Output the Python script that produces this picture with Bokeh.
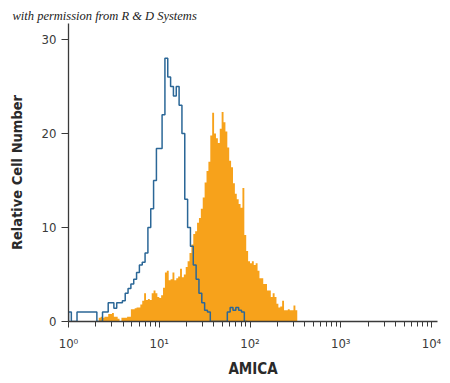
import numpy as np
from bokeh.plotting import figure
from bokeh.models import Range1d, FixedTicker
from bokeh.embed import file_html
from bokeh.resources import INLINE

# ---- data ----
X_TICKS = [1, 10, 100, 1000, 10000]
X_TICK_LABELS = ["10⁰", "10¹", "10²", "10³", "10⁴"]
Y_TICKS = [0, 10, 20, 30]
NOTE = "with permission from R & D Systems"

# isotype control (blue outline): 32 bins per decade, starting at 10^0
BLUE_BINS_PER_DECADE = 32
BLUE_FIRST_BIN = 0
BLUE_COUNTS = [1, 0, 0, 1, 1, 1, 1, 1, 1, 1,
               0, 0, 1, 1, 2, 2, 1.4, 2, 2, 2.2,
               3, 3.5, 4, 4.5, 5.2, 6, 6.3, 7.3, 10, 12,
               15, 18.4, 18.4, 22, 28, 26, 25, 24, 25, 23,
               20, 13, 10, 8, 6, 4.5, 3, 2, 1.2, 1,
               0, 0, 0, 0, 0, 0, 1, 1.5, 1.2, 1.5,
               1.2, 1, 0]

# AMICA antibody (orange filled): 48 bins per decade, starting at bin 16
ORANGE_BINS_PER_DECADE = 48
ORANGE_FIRST_BIN = 16
ORANGE_COUNTS = [0.4, 0.5, 0.4, 0.5, 0.5, 0.8, 0.8, 0.9, 0.5, 0.5,
                 0.3, 0, 0.4, 0.4, 0.4, 0.5, 0.5, 1.3, 1.3, 1.4,
                 1.5, 1.5, 1.8, 2.2, 3.0, 2.3, 2.4, 2.3, 3.0, 3.3,
                 3.0, 2.6, 2.5, 2.8, 3.6, 5.2, 5.4, 4.4, 4.5, 5.2,
                 4.4, 4.6, 4.8, 5.6, 4.7, 5.0, 5.8, 6.4, 7.3, 8.2,
                 9.3, 9.6, 10.5, 11.0, 12.0, 13.2, 14.8, 16.0, 17.0, 19.8,
                 22.2, 20.0, 19.5, 19.0, 20.5, 22.3, 21.2, 20.2, 18.5, 17.1,
                 16.4, 14.7, 13.6, 13.0, 12.5, 12.1, 14.2, 9.2, 7.5, 6.4,
                 6.2, 6.4, 6.0, 6.2, 5.4, 4.6, 4.6, 4.0, 4.0, 3.3,
                 3.3, 2.6, 3.0, 2.6, 1.9, 1.5, 1.6, 2.2, 1.2, 1.2,
                 1.3, 1.2, 1.2, 1.7, 1.2]


def step_path(first_bin, per_decade, counts):
    edges = 10 ** ((first_bin + np.arange(len(counts) + 1)) / per_decade)
    xs, ys = [edges[0]], [0]
    for i, c in enumerate(counts):
        xs += [edges[i], edges[i + 1]]
        ys += [c, c]
    xs.append(edges[-1])
    ys.append(0)
    return xs, ys


FONT = "DejaVu Sans Condensed, Liberation Sans, sans-serif"
AXIS_COLOR = "#3a3a3a"
FRAME_W, FRAME_H = 369, 298
PX_PER_DECADE, PX_PER_COUNT = 90.75, 9.4

p = figure(x_axis_type="log", frame_width=FRAME_W, frame_height=FRAME_H,
           x_range=Range1d(1, 10 ** (FRAME_W / PX_PER_DECADE)),
           y_range=Range1d(0, FRAME_H / PX_PER_COUNT),
           output_backend="svg", toolbar_location=None,
           min_border_left=68, min_border_right=5, min_border_top=23, min_border_bottom=56,
           background_fill_color="white", border_fill_color="white")

ox, oy = step_path(ORANGE_FIRST_BIN, ORANGE_BINS_PER_DECADE, ORANGE_COUNTS)
p.patch(ox, oy, fill_color="#F7A21B", line_color=None)

bx, by = step_path(BLUE_FIRST_BIN, BLUE_BINS_PER_DECADE, BLUE_COUNTS)
p.line(bx, by, line_color="#2B6797", line_width=1.5)

p.grid.visible = False
p.outline_line_color = None

p.title.text = NOTE
p.title.align = "left"
p.title.offset = -56
p.title.standoff = 1
p.title.text_font = "Liberation Serif"
p.title.text_font_style = "italic"
p.title.text_font_size = "12.5px"
p.title.text_color = "#222222"

xa = p.xaxis[0]
xa.ticker = FixedTicker(ticks=X_TICKS,
                        minor_ticks=[m * 10 ** d for d in range(4) for m in range(2, 10)])
xa.major_label_overrides = dict(zip(X_TICKS, X_TICK_LABELS))
xa.major_tick_in = 0
xa.major_tick_out = 6
xa.minor_tick_in = 0
xa.minor_tick_out = 5
xa.minor_tick_line_color = AXIS_COLOR
xa.major_label_standoff = 8
xa.axis_label = "AMICA"
xa.axis_label_standoff = 6

ya = p.yaxis[0]
ya.ticker = FixedTicker(ticks=Y_TICKS, minor_ticks=[])
ya.minor_tick_line_color = None
ya.major_tick_in = 0
ya.major_tick_out = 7
ya.major_label_standoff = 5
ya.axis_label = "Relative Cell Number"
ya.axis_label_standoff = 14

for ax in (xa, ya):
    ax.axis_line_color = AXIS_COLOR
    ax.axis_line_width = 1.3
    ax.major_tick_line_color = AXIS_COLOR
    ax.major_label_text_font = FONT
    ax.major_label_text_font_size = "13px"
    ax.major_label_text_color = "#3a3a3a"
    ax.axis_label_text_font = FONT
    ax.axis_label_text_font_style = "bold"
    ax.axis_label_text_color = "#2a2a2a"

ya.axis_label_text_font_size = "14.5px"
xa.axis_label_text_font_size = "15px"

open("out.html", "w").write(file_html(p, INLINE))
